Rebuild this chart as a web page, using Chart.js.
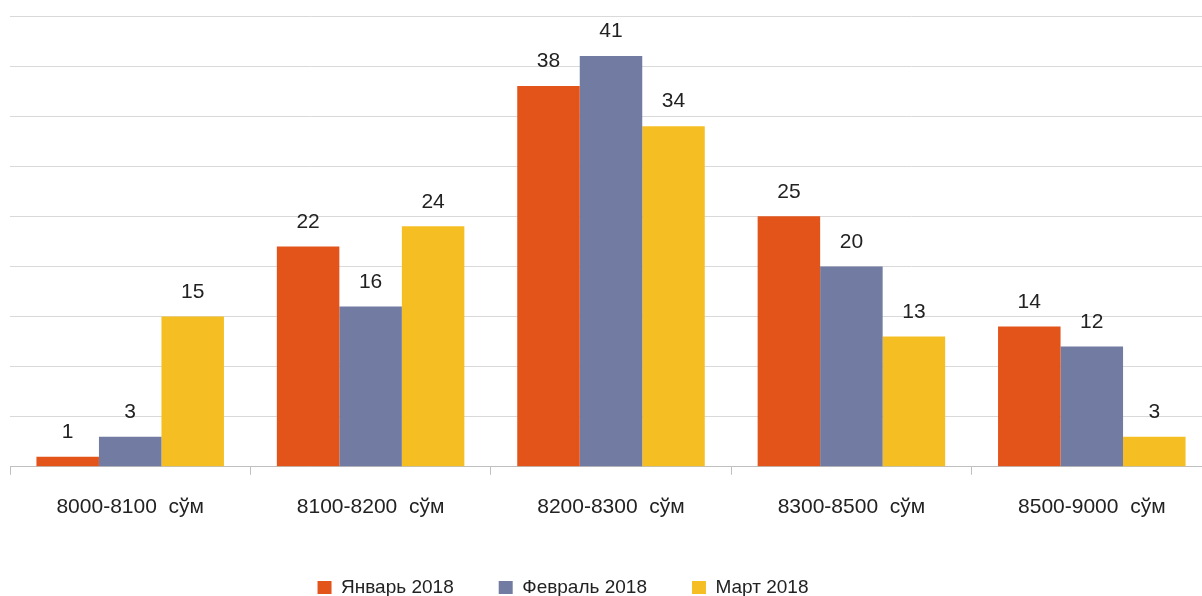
<!DOCTYPE html>
<html>
<head>
<meta charset="utf-8">
<script src="https://cdn.jsdelivr.net/npm/chart.js@4/dist/chart.umd.min.js"></script>
<style>
  html, body { margin: 0; padding: 0; background: #fff; overflow: hidden; }
  #wrap { position: relative; width: 1212px; height: 596px; }
</style>
</head>
<body>
<div id="wrap"><canvas id="chart"></canvas></div>
<script>
// categories and series
const categories = ["8000-8100  сўм", "8100-8200  сўм", "8200-8300  сўм", "8300-8500  сўм", "8500-9000  сўм"];
const january = [1, 22, 38, 25, 14];
const february = [3, 16, 41, 20, 12];
const march = [15, 24, 34, 13, 3];
const seriesNames = ["Январь 2018", "Февраль 2018", "Март 2018"];

const FONT = "'Liberation Sans', Arial, sans-serif";

// draws value above each bar
const valueLabels = {
    id: "valueLabels",
    afterDatasetsDraw(chart) {
        const ctx = chart.ctx;
        ctx.save();
        ctx.font = "21px " + FONT;
        ctx.fillStyle = "#222";
        ctx.textAlign = "center";
        ctx.textBaseline = "bottom";
        chart.data.datasets.forEach((ds, i) => {
            chart.getDatasetMeta(i).data.forEach((bar, j) => {
                ctx.fillText(ds.data[j], bar.x, bar.y - 14);
            });
        });
        ctx.restore();
    }
};

// legend in the original sits a bit left of centre
const legendShift = {
    id: "legendShift",
    afterLayout(chart) {
        if (chart.legend) {
            chart.legend.left -= 48;
            chart.legend.right -= 48;
        }
    }
};

new Chart(document.getElementById("chart"), {
    type: "bar",
    data: {
        labels: categories,
        datasets: [
            { label: seriesNames[0], data: january, backgroundColor: "#E2541A" },
            { label: seriesNames[1], data: february, backgroundColor: "#727BA1" },
            { label: seriesNames[2], data: march, backgroundColor: "#F5BF23" }
        ]
    },
    options: {
        responsive: true,
        maintainAspectRatio: false,
        animation: false,
        datasets: {
            bar: { barPercentage: 1, categoryPercentage: 0.78 }
        },
        layout: { padding: { left: 10, right: 0, top: 16, bottom: -11 } },
        scales: {
            x: {
                grid: {
                    offset: true,
                    drawOnChartArea: false,
                    tickLength: 8,
                    color: "#bfbfbf"
                },
                border: { color: "#bfbfbf" },
                ticks: {
                    color: "#222",
                    font: { family: FONT, size: 21 },
                    padding: 20,
                    maxRotation: 0
                },
                // let the legend sit closer to the category labels
                afterFit: (scale) => { scale.height -= 7; }
            },
            y: {
                min: 0,
                max: 45,
                grid: { color: "#d9d9d9", drawTicks: false },
                border: { display: false },
                ticks: { display: false, stepSize: 5 }
            }
        },
        plugins: {
            legend: {
                position: "bottom",
                labels: {
                    boxWidth: 14,
                    boxHeight: 13,
                    padding: 45,
                    color: "#222",
                    font: { family: FONT, size: 19 }
                }
            },
            tooltip: { enabled: false }
        }
    },
    plugins: [valueLabels, legendShift]
});
</script>
</body>
</html>
